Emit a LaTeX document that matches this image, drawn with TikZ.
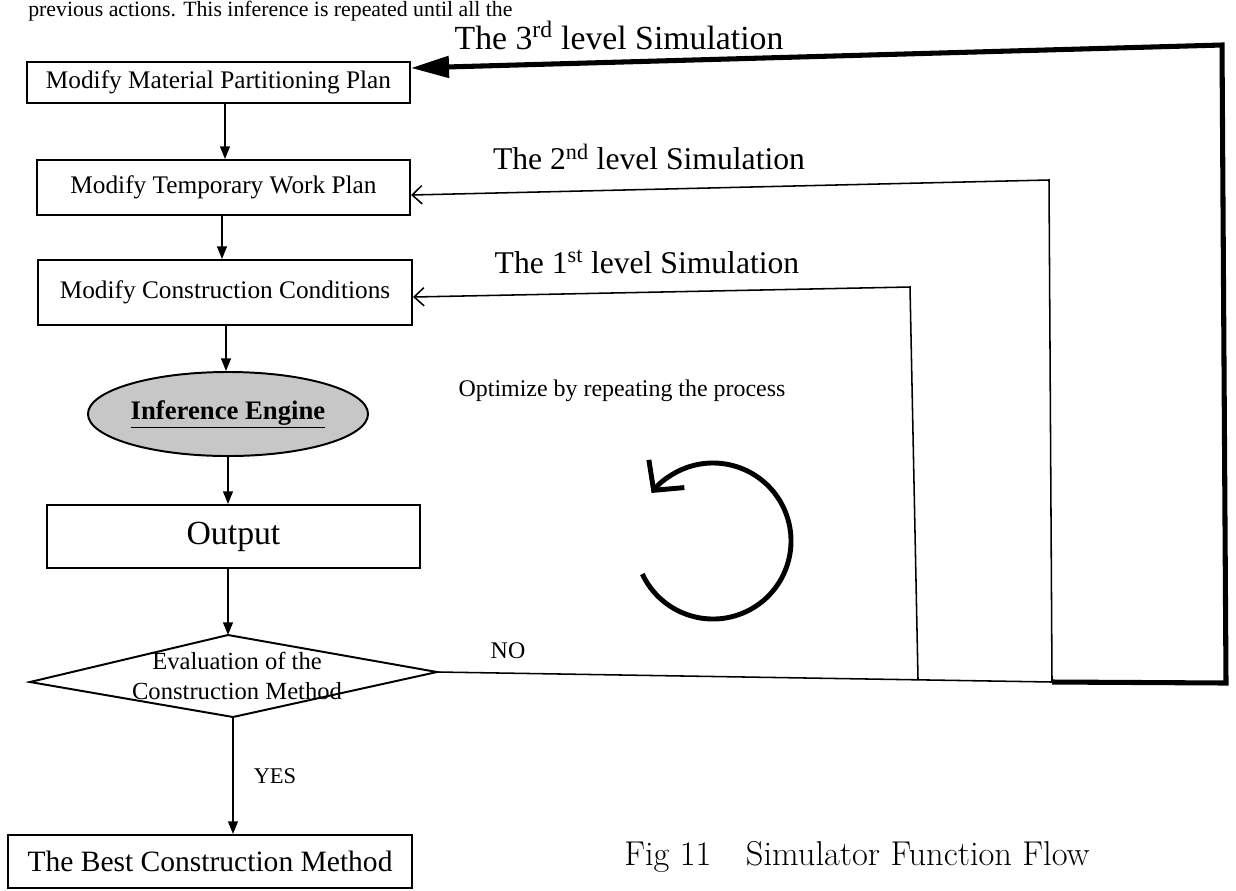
\documentclass[tikz,border=0pt]{standalone}
\usepackage{fontspec}
\newfontfamily\tnr{Liberation Serif}
\usetikzlibrary{arrows.meta,shapes.geometric}
\begin{document}
\begin{tikzpicture}[x=0.025cm,y=-0.025cm,
  box/.style={draw, line width=1.4pt, inner sep=0pt, font=\tnr\fontsize{18}{21}\selectfont},
  varrow/.style={-{Triangle[length=9pt,width=7pt]}, line width=1.1pt},
  fb/.style={line width=1.1pt},
  fbarrow/.style={-{Straight Barb[length=7pt,width=13pt]}, line width=1.1pt},
  thk/.style={-{Triangle[length=27pt,width=15pt]}, line width=3.6pt, line join=miter},
  circarrow/.style={-{Straight Barb[length=15pt,width=32pt]}, line width=3.5pt},
  lvl/.style={font=\tnr\fontsize{22.5}{26}\selectfont, inner sep=0pt},
  lbl/.style={font=\tnr\fontsize{16}{19}\selectfont, inner sep=0pt}]
\useasboundingbox (0,0) rectangle (1236,890);

% header text
\node[anchor=base west, inner sep=0pt, font=\tnr\fontsize{15.5}{19}\selectfont] (hdr) at (28,16.5) {previous actions. This inference is repeated until all the};

% boxes
\node[box, minimum width=9.575cm, minimum height=1.025cm] (b1) at (218.5,82.5) {Modify Material Partitioning Plan};
\node[box, minimum width=9.325cm, minimum height=1.375cm] (b2) at (223.5,187.5) {Modify Temporary Work Plan};
\node[box, minimum width=9.35cm, minimum height=1.625cm] (b3) at (225,292.5) {Modify Construction Conditions};
\node[ellipse, draw, line width=1.4pt, fill=black!22, minimum width=7cm, minimum height=2.1cm, inner sep=0pt,
      font=\tnr\bfseries\fontsize{19}{22}\selectfont] (ie) at (228,414) {\underline{Inference Engine}};
\node[box, minimum width=9.325cm, minimum height=1.575cm, font=\tnr\fontsize{24}{28}\selectfont] (out) at (233.5,536.5) {Output};
\node[box, minimum width=10.1cm, minimum height=1.325cm, font=\tnr\fontsize{21}{25}\selectfont] (best) at (210,861.5) {The Best Construction Method};

% diamond
\coordinate (dl) at (30,682);
\coordinate (dt) at (228,635);
\coordinate (dr) at (437,672);
\coordinate (db) at (233,717);
\draw[line width=1.4pt, line join=miter] (dl) -- (dt) -- (dr) -- (db) -- cycle;
\node[align=center, inner sep=0pt, font=\tnr\fontsize{17.5}{21}\selectfont] (ev) at (237,676) {Evaluation of the\\Construction Method};

% vertical flow arrows
\draw[varrow] (225,0 |- b1.south) -- (225,0 |- b2.north);
\draw[varrow] (222,0 |- b2.south) -- (222,0 |- b3.north);
\draw[varrow] (226,0 |- b3.south) -- (226,0 |- ie.north);
\draw[varrow] (228,0 |- ie.south) -- (228,0 |- out.north);
\draw[varrow] (228,0 |- out.south) -- (dt);
\draw[varrow] (db) -- (233,0 |- best.north);
\node[lbl] (yes) at (275,776) {YES};

% feedback loops
\coordinate (n1) at (918,679);
\coordinate (t1) at (910,287);
\coordinate (n2) at (1052,682);
\coordinate (t2) at (1049,180);
\coordinate (n3) at (1226,683);
\coordinate (t3) at (1222,45);
\draw[fb] (dr) -- (n2);
\node[lbl, font=\tnr\fontsize{17}{20}\selectfont] (no) at (508,651) {NO};
\draw[fbarrow] (n1) -- (t1) -- (b3.east |- 0,297);
\draw[fbarrow] (n2) -- (t2) -- (b2.east |- 0,195);
\draw[thk] (n2) -- (n3) -- (t3) -- (b1.east |- 0,68);

% level labels
\node[lvl, font=\tnr\fontsize{24}{28}\selectfont] (l3) at (619,35.5) {The 3\textsuperscript{rd} level Simulation};
\node[lvl] (l2) at (649,157) {The 2\textsuperscript{nd} level Simulation};
\node[lvl] (l1) at (647,262) {The 1\textsuperscript{st} level Simulation};

% optimize
\node[inner sep=0pt, font=\tnr\fontsize{17}{20}\selectfont] (opt) at (622,391) {Optimize by repeating the process};
\draw[circarrow] (713,541) ++(155:78) arc[start angle=155, end angle=-142, radius=78];

% caption
\node[inner sep=0pt, font=\fontsize{24.5}{29}\selectfont] (cap) at (857,857) {Fig 11\quad Simulator Function Flow};
\end{tikzpicture}
\end{document}
